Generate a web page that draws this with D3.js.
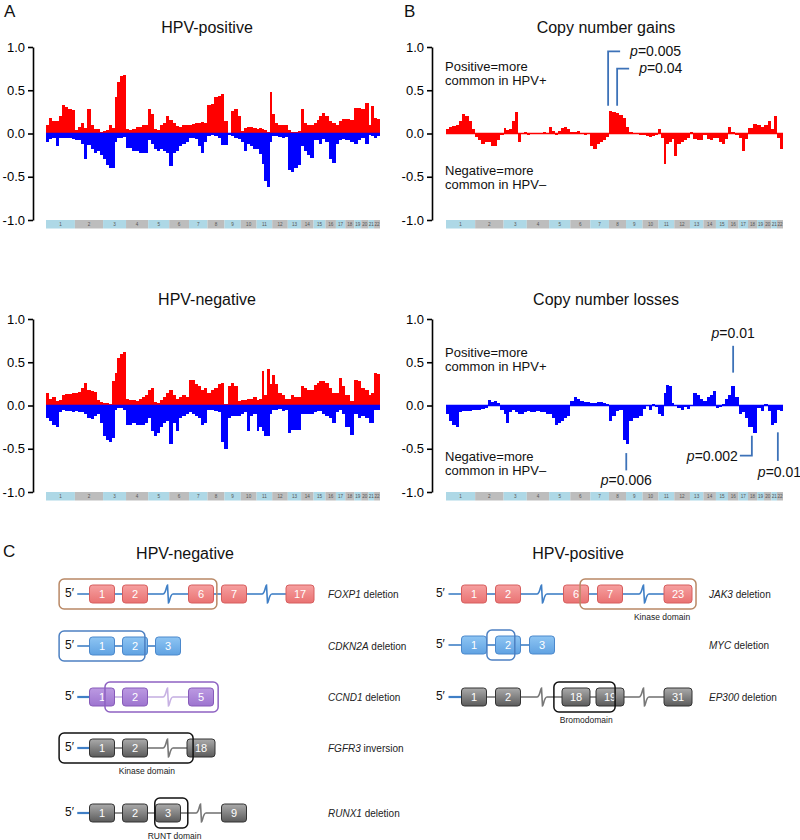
<!DOCTYPE html>
<html><head><meta charset="utf-8">
<script src="https://cdn.jsdelivr.net/npm/d3@7"></script>
<style>
body{margin:0;background:#fff}
svg{display:block}
text{font-family:"Liberation Sans",Arial,Helvetica,sans-serif}
</style>
</head><body>
<svg id="fig" width="800" height="840"></svg>
<script>
// ---------------- DATA ----------------
const chromNames = ["1","2","3","4","5","6","7","8","9","10","11","12","13","14","15","16","17","18","19","20","21","22"];
const chromLengths = [249,243,198,191,181,171,159,146,141,136,135,134,115,107,103,90,81,78,59,63,48,51];
const yTicks = [1, 0.5, 0, -0.5, -1];

// HPV-positive: frequency of gains (red) and losses (blue), values per chromosome (equal bins)
const hpvPosGain = [
 [0.1,0.18,0.15,0.14,0.2,0.33,0.31,0.28,0.27],
 [0.04,0.08,0.12,0.06,0.28,0.1,0.05,0.05,0.02],
 [0.03,0.04,0.1,0.06,0.42,0.6,0.66,0.68],
 [0.05,0.04,0.05,0.07,0.08,0.1,0.1],
 [0.28,0.22,0.05,0.04,0.1,0.12,0.2],
 [0.16,0.12,0.09,0.08,0.1,0.1],
 [0.1,0.11,0.12,0.12,0.13,0.12],
 [0.33,0.34,0.42,0.43,0.46],
 [0.14,0.01,0.26,0.28,0.2],
 [0.03,0.06,0.07,0.07,0.06],
 [0.05,0.06,0.05,0.04,0.02,0.48],
 [0.22,0.12,0.1,0.1,0.1],
 [0.04,0.02,0.02,0.03],
 [0.28,0.12,0.1,0.1],
 [0.12,0.16,0.2,0.24],
 [0.2,0.15,0.12],
 [0.1,0.15,0.17],
 [0.17,0.16],
 [0.3,0.3],
 [0.28,0.35],
 [0.1,0.32],
 [0.18,0.17]
];
const hpvPosLoss = [
 [-0.1,-0.06,-0.05,-0.14,-0.05,-0.05,-0.05,-0.05,-0.06],
 [-0.07,-0.08,-0.12,-0.3,-0.13,-0.18,-0.22,-0.2,-0.25],
 [-0.3,-0.36,-0.4,-0.4,-0.1,-0.05,-0.05,-0.04],
 [-0.17,-0.17,-0.2,-0.2,-0.22,-0.22,-0.22],
 [-0.08,-0.12,-0.18,-0.2,-0.18,-0.2,-0.22],
 [-0.38,-0.22,-0.2,-0.15,-0.12,-0.1],
 [-0.05,-0.05,-0.06,-0.15,-0.22,-0.1],
 [-0.03,-0.02,-0.03,-0.05,-0.13],
 [-0.13,-0.02,-0.03,-0.05,-0.06],
 [-0.1,-0.2,-0.12,-0.15,-0.18],
 [-0.18,-0.24,-0.35,-0.55,-0.62,-0.1],
 [-0.03,-0.03,-0.04,-0.05,-0.04],
 [-0.42,-0.45,-0.4,-0.36],
 [-0.15,-0.2,-0.25,-0.28],
 [-0.08,-0.08,-0.12,-0.06],
 [-0.1,-0.3,-0.34],
 [-0.12,-0.08,-0.06],
 [-0.08,-0.1],
 [-0.12,-0.08],
 [-0.05,-0.12],
 [-0.02,-0.03],
 [-0.05,-0.03]
];
// HPV-negative
const hpvNegGain = [
 [0.15,0.08,0.1,0.05,0.06,0.12,0.13,0.13,0.14],
 [0.14,0.16,0.2,0.26,0.18,0.17,0.16,0.06,0.04],
 [0.03,0.03,0.02,0.28,0.38,0.55,0.6,0.62],
 [0.08,0.06,0.06,0.05,0.07,0.1,0.12],
 [0.18,0.2,0.04,0.03,0.06,0.1,0.15],
 [0.18,0.12,0.08,0.1,0.12,0.1],
 [0.3,0.3,0.25,0.22,0.18,0.2],
 [0.15,0.18,0.2,0.25,0.26],
 [0.02,0.22,0.26,0.22,0.05],
 [0.06,0.06,0.08,0.07,0.1],
 [0.06,0.08,0.4,0.12,0.42,0.25],
 [0.35,0.25,0.15,0.12,0.08],
 [0.08,0.12,0.1,0.1],
 [0.22,0.2,0.18,0.18],
 [0.24,0.26,0.28,0.28],
 [0.26,0.2,0.15],
 [0.15,0.32,0.22],
 [0.12,0.05],
 [0.3,0.28],
 [0.2,0.18],
 [0.12,0.14],
 [0.37,0.36]
];
const hpvNegLoss = [
 [-0.15,-0.18,-0.22,-0.25,-0.08,-0.05,-0.06,-0.06,-0.07],
 [-0.06,-0.07,-0.08,-0.1,-0.15,-0.16,-0.12,-0.1,-0.2],
 [-0.35,-0.4,-0.42,-0.38,-0.05,-0.03,-0.03,-0.05],
 [-0.22,-0.22,-0.2,-0.22,-0.23,-0.22,-0.2],
 [-0.15,-0.3,-0.35,-0.32,-0.25,-0.2,-0.18],
 [-0.45,-0.2,-0.3,-0.15,-0.12,-0.1],
 [-0.08,-0.1,-0.12,-0.15,-0.22,-0.2],
 [-0.05,-0.05,-0.06,-0.08,-0.42],
 [-0.5,-0.15,-0.12,-0.12,-0.12],
 [-0.1,-0.08,-0.3,-0.12,-0.1],
 [-0.3,-0.25,-0.3,-0.35,-0.35,-0.1],
 [-0.05,-0.05,-0.04,-0.06,-0.05],
 [-0.32,-0.28,-0.28,-0.28],
 [-0.1,-0.1,-0.1,-0.1],
 [-0.08,-0.06,-0.06,-0.1],
 [-0.12,-0.15,-0.2],
 [-0.08,-0.05,-0.1],
 [-0.25,-0.34],
 [-0.1,-0.15],
 [-0.12,-0.15],
 [-0.2,-0.2],
 [-0.05,-0.05]
];
// Differences (HPV+ minus HPV-)
const gainDiff = [
 [0.05,0.08,0.09,0.1,0.15,0.23,0.2,0.15,0.05],
 [-0.04,-0.08,-0.12,-0.1,-0.1,-0.15,-0.14,-0.08,-0.02],
 [0.06,0.04,0.05,0.15,0.25,-0.1,0.0,0.02],
 [-0.02,-0.01,0.0,0.01,0.01,0.02,0.0],
 [0.08,0.03,-0.02,0.03,0.06,0.07,0.05],
 [0.02,0.02,0.03,0.0,-0.02,-0.01],
 [-0.15,-0.18,-0.12,-0.1,-0.08,-0.04],
 [0.26,0.25,0.24,0.21,0.18],
 [0.08,0.02,0.0,-0.01,-0.02],
 [-0.02,-0.03,-0.04,-0.03,-0.02],
 [0.05,-0.05,-0.35,-0.12,-0.1,-0.06],
 [-0.26,-0.12,-0.1,-0.08,-0.05],
 [0.02,-0.06,-0.08,-0.08],
 [-0.02,-0.06,-0.08,-0.05],
 [-0.05,-0.1,-0.12,-0.06],
 [0.08,0.02,-0.02],
 [-0.05,-0.2,-0.06],
 [0.06,0.11],
 [0.1,0.08],
 [0.1,0.15],
 [0.05,0.2],
 [-0.05,-0.18]
];
const lossDiff = [
 [-0.1,-0.18,-0.22,-0.25,-0.07,-0.06,-0.06,-0.06,-0.05],
 [-0.05,-0.05,-0.04,-0.03,0.06,0.04,0.05,0.03,-0.05],
 [-0.1,-0.2,-0.08,-0.05,-0.08,-0.1,-0.1,-0.08],
 [-0.06,-0.08,-0.08,-0.06,-0.07,-0.08,-0.1],
 [-0.1,-0.15,-0.22,-0.2,-0.18,-0.15,-0.12],
 [0.05,0.1,0.08,0.05,0.04,0.04],
 [0.03,0.03,0.04,0.04,0.03,0.02],
 [-0.18,-0.12,-0.06,-0.05,-0.4],
 [-0.45,-0.18,-0.15,-0.14,-0.12],
 [-0.04,0.0,-0.05,0.02,-0.02],
 [-0.1,-0.12,0.15,0.24,0.22,0.03],
 [0.0,-0.03,-0.05,-0.02,-0.04],
 [0.0,0.15,0.12,0.08],
 [0.05,0.1,0.12,0.17],
 [-0.03,-0.02,0.02,0.08],
 [0.12,0.23,0.1],
 [-0.1,-0.08,-0.15],
 [-0.25,-0.32],
 [-0.03,-0.06],
 [0.02,-0.06],
 [-0.22,-0.2],
 [-0.05,-0.06]
];
// p-value annotations: genome position (Mb), line top/bottom in data units
const gainAnnots = [
 {p:"0.005", pos:1385, top:0.95, bottom:0.32},
 {p:"0.04",  pos:1462, top:0.75, bottom:0.32}
];
const lossAnnots = [
 {p:"0.01",  pos:2453, top:0.69, bottom:0.38, style:"above"},
 {p:"0.006", pos:1540, top:-0.55, bottom:-0.75, style:"below"},
 {p:"0.002", pos:2613, top:-0.35, bottom:-0.58, style:"left"},
 {p:"0.01",  pos:2835, top:-0.31, bottom:-0.64, style:"right"}
];
// Gene schematics ("~" = intron break). domain = span in exon-slot units
const negGenes = [
 {gene:"FOXP1", event:"deletion", palette:"red", parts:["1","2","~","6","7","~","17"], domain:[-1.3,3.48], domainColor:"brown"},
 {gene:"CDKN2A", event:"deletion", palette:"blue", parts:["1","2","3"], domain:[-1.3,1.3], domainColor:"blue"},
 {gene:"CCND1", event:"deletion", palette:"purple", parts:["1","2","~","5"], domain:[0.09,3.52], domainColor:"purple"},
 {gene:"FGFR3", event:"inversion", palette:"gray", parts:["1","2","~","18"], domain:[-1.3,2.76], domainColor:"black", label:"Kinase domain", labelAt:1.36},
 {gene:"RUNX1", event:"deletion", palette:"gray", parts:["1","2","3","~","9"], domain:[1.6,2.6], domainColor:"black", label:"RUNT domain", labelAt:2.2}
];
const posGenes = [
 {gene:"JAK3", event:"deletion", palette:"red", parts:["1","2","~","6","7","~","23"], domain:[3.12,6.53], domainColor:"brown", label:"Kinase domain", labelAt:5.53},
 {gene:"MYC", event:"deletion", palette:"blue", parts:["1","2","3"], domain:[0.38,1.2], domainColor:"blue"},
 {gene:"EP300", event:"deletion", palette:"gray", parts:["1","2","~","18","19","~","31"], domain:[2.35,4.15], domainColor:"black", label:"Bromodomain", labelAt:3.3}
];

// ---------------- STYLE ----------------
const FONT = '"Liberation Sans",Arial,Helvetica,sans-serif';
const RED = "#ff0000", BLUE = "#0000ff", ANN = "#3d72b8";
const bandColors = ["#aed8e6", "#bdbdbd"];
const palettes = {
  red:    {top:"#f6a0a0", bot:"#e97272", stroke:"#d65e5e", line:"#3f7fc6"},
  blue:   {top:"#8ec5f3", bot:"#60a2e2", stroke:"#4b88cc", line:"#3f7fc6"},
  purple: {top:"#bc9ae2", bot:"#9d74cf", stroke:"#875bb9", line:"#c7b2e3"},
  gray:   {top:"#ababab", bot:"#5b5b5b", stroke:"#333333", line:"#777777"}
};
const domainColors = {brown:"#b98865", blue:"#4d80c2", purple:"#8e62c2", black:"#111111"};

const svg = d3.select("#fig");
const defs = svg.append("defs");
Object.entries(palettes).forEach(([k, p]) => {
  const g = defs.append("linearGradient").attr("id", "grad-" + k).attr("x1",0).attr("y1",0).attr("x2",0).attr("y2",1);
  g.append("stop").attr("offset","0%").attr("stop-color", p.top);
  g.append("stop").attr("offset","100%").attr("stop-color", p.bot);
});

const total = d3.sum(chromLengths);
const chromStart = Array.from(d3.cumsum([0, ...chromLengths])).slice(0, -1);

function cnPanel(o) {
  const g = svg.append("g");
  const xs = d3.scaleLinear().domain([0, total]).range([o.x0, o.x1]);
  const ys = d3.scaleLinear().domain([-1, 1]).range([o.yBot, o.yTop]);
  o.series.forEach(s => {
    const bins = [];
    s.data.forEach((vals, c) => {
      const n = vals.length;
      vals.forEach((v, i) => {
        bins.push({a: chromStart[c] + chromLengths[c] * i / n, b: chromStart[c] + chromLengths[c] * (i + 1) / n, v});
      });
    });
    g.append("g").attr("shape-rendering","crispEdges").selectAll("rect").data(bins).join("rect")
      .attr("x", d => xs(d.a)).attr("width", d => xs(d.b) - xs(d.a))
      .attr("y", d => ys(Math.max(d.v, 0))).attr("height", d => Math.abs(ys(d.v) - ys(0)))
      .attr("fill", s.color);
  });
  g.append("line").attr("x1", xs(0)).attr("x2", xs(total)).attr("y1", ys(0)).attr("y2", ys(0))
    .attr("stroke", o.baseColor).attr("stroke-width", 1.5);
  // axis
  const ax = g.append("g").attr("transform", `translate(${o.axisX},0)`)
    .call(d3.axisLeft(ys).tickValues(yTicks).tickFormat(d => d.toFixed(1)).tickSize(5).tickSizeOuter(0).tickPadding(3));
  ax.select(".domain").attr("stroke","#000").attr("stroke-width",1.6);
  ax.selectAll(".tick line").attr("stroke","#000").attr("stroke-width",1.6);
  ax.selectAll(".tick text").attr("font-size", 13).attr("font-family", FONT).attr("fill","#000");
  // chromosome band
  const band = g.append("g");
  chromNames.forEach((name, c) => {
    const xa = xs(chromStart[c]), xb = xs(chromStart[c] + chromLengths[c]);
    band.append("rect").attr("x", xa).attr("y", o.yBot).attr("width", xb - xa).attr("height", 8.5)
      .attr("fill", bandColors[c % 2]);
    band.append("text").attr("x", (xa + xb) / 2).attr("y", o.yBot + 6.2).attr("text-anchor","middle")
      .attr("font-size", 4.6).attr("fill","#555").text(name);
  });
  // title
  g.append("text").attr("x", o.titleX).attr("y", o.titleY).attr("text-anchor","middle")
    .attr("font-size", 16).attr("fill","#111").text(o.title);
  return {g, xs, ys};
}

function pText(g, x, y, p, anchor) {
  const t = g.append("text").attr("x", x).attr("y", y).attr("text-anchor", anchor).attr("font-size", 14).attr("fill","#111");
  t.append("tspan").attr("font-style","italic").text("p");
  t.append("tspan").text("=" + p);
}
function twoLines(g, x, y, l1, l2) {
  g.append("text").attr("x", x).attr("y", y).attr("font-size", 13).attr("fill","#111").text(l1);
  g.append("text").attr("x", x).attr("y", y + 14.6).attr("font-size", 13).attr("fill","#111").text(l2);
}

// Panel labels
[["A",4,17],["B",404,17],["C",3,557]].forEach(([l,x,y]) =>
  svg.append("text").attr("x",x).attr("y",y).attr("font-size",17).attr("fill","#111").text(l));

// A panels
cnPanel({axisX:33, x0:46, x1:380, yTop:47, yBot:220, title:"HPV-positive", titleX:207, titleY:33,
  series:[{data:hpvPosGain, color:RED},{data:hpvPosLoss, color:BLUE}], baseColor:BLUE});
cnPanel({axisX:33, x0:46, x1:380, yTop:319, yBot:492, title:"HPV-negative", titleX:207, titleY:305,
  series:[{data:hpvNegGain, color:RED},{data:hpvNegLoss, color:BLUE}], baseColor:BLUE});

// B panels
const bTop = cnPanel({axisX:432, x0:446, x1:783, yTop:47, yBot:220, title:"Copy number gains", titleX:606, titleY:33,
  series:[{data:gainDiff, color:RED}], baseColor:RED});
twoLines(bTop.g, 445, 70.5, "Positive=more", "common in HPV+");
twoLines(bTop.g, 445, 174.5, "Negative=more", "common in HPV\u2013");
gainAnnots.forEach(a => {
  const x = bTop.xs(a.pos), yt = bTop.ys(a.top), yb = bTop.ys(a.bottom);
  bTop.g.append("path").attr("d", `M${x},${yb}V${yt}H${x + 12}`).attr("fill","none")
    .attr("stroke", ANN).attr("stroke-width", 1.8);
  pText(bTop.g, x + 22, yt + 4.5, a.p, "start");
});

const bBot = cnPanel({axisX:432, x0:446, x1:783, yTop:319, yBot:492, title:"Copy number losses", titleX:606, titleY:305,
  series:[{data:lossDiff, color:BLUE}], baseColor:BLUE});
twoLines(bBot.g, 445, 356.5, "Positive=more", "common in HPV+");
twoLines(bBot.g, 445, 460.5, "Negative=more", "common in HPV\u2013");
lossAnnots.forEach(a => {
  const x = bBot.xs(a.pos), yt = bBot.ys(a.top), yb = bBot.ys(a.bottom);
  if (a.style === "left") {
    bBot.g.append("path").attr("d", `M${x},${yt}V${yb}H${x - 12}`).attr("fill","none").attr("stroke", ANN).attr("stroke-width", 1.8);
    pText(bBot.g, x - 14, yb + 5, a.p, "end");
  } else {
    bBot.g.append("line").attr("x1",x).attr("x2",x).attr("y1",yt).attr("y2",yb).attr("stroke",ANN).attr("stroke-width",1.8);
    if (a.style === "above") pText(bBot.g, x, yt - 8, a.p, "middle");
    else if (a.style === "below") pText(bBot.g, x, yb + 15, a.p, "middle");
    else pText(bBot.g, x - 20, yb + 16, a.p, "start");
  }
});

// ---------------- PANEL C ----------------
svg.append("text").attr("x",185).attr("y",559).attr("text-anchor","middle").attr("font-size",16).attr("fill","#111").text("HPV-negative");
svg.append("text").attr("x",578).attr("y",559).attr("text-anchor","middle").attr("font-size",16).attr("fill","#111").text("HPV-positive");

function geneColumn(genes, slot, rowsY, labelX) {
  genes.forEach((gd, r) => {
    const cy = rowsY[r];
    const pal = palettes[gd.palette];
    const g = svg.append("g");
    const exW = t => t.length > 1 ? 28 : 25;
    const parts = gd.parts.map((t, i) => {
      const cx = slot(i);
      const brk = t === "~";
      return {t, cx, brk, l: brk ? cx - 5 : cx - exW(t) / 2, r: brk ? cx + 5 : cx + exW(t) / 2};
    });
    // 5' leader
    g.append("text").attr("x", slot(-1.12)).attr("y", cy + 3).attr("font-size", 12).attr("fill","#111").text("5\u2032");
    g.append("line").attr("x1", slot(-0.75)).attr("x2", parts[0].l).attr("y1", cy).attr("y2", cy)
      .attr("stroke", "#3f7fc6").attr("stroke-width", gd.palette === "red" || gd.palette === "blue" ? 1.6 : 2.2);
    // introns
    for (let i = 0; i < parts.length - 1; i++) {
      g.append("line").attr("x1", parts[i].r).attr("x2", parts[i + 1].l).attr("y1", cy).attr("y2", cy)
        .attr("stroke", pal.line).attr("stroke-width", 1.6);
    }
    // breaks
    parts.filter(p => p.brk).forEach(p => {
      const x = p.cx;
      g.append("path").attr("d", `M${x-5},${cy} C${x-2},${cy} ${x-1.5},${cy-9} ${x-0.5},${cy-9} L${x+0.5},${cy+9} C${x+1.5},${cy+9} ${x+2},${cy} ${x+5},${cy}`)
        .attr("fill","none").attr("stroke", pal.line).attr("stroke-width", 1.6);
    });
    // exons
    parts.filter(p => !p.brk).forEach(p => {
      g.append("rect").attr("x", p.l).attr("y", cy - 9).attr("width", p.r - p.l).attr("height", 18).attr("rx", 3)
        .attr("fill", `url(#grad-${gd.palette})`).attr("stroke", pal.stroke).attr("stroke-width", 1);
      g.append("text").attr("x", p.cx).attr("y", cy + 4).attr("text-anchor","middle").attr("font-size", 11)
        .attr("fill","#fff").text(p.t);
    });
    // domain box
    const bx0 = slot(gd.domain[0]), bx1 = slot(gd.domain[1]);
    g.append("rect").attr("x", bx0).attr("y", cy - 15).attr("width", bx1 - bx0).attr("height", 30).attr("rx", 5)
      .attr("fill","none").attr("stroke", domainColors[gd.domainColor]).attr("stroke-width", 1.5);
    if (gd.label) {
      g.append("text").attr("x", slot(gd.labelAt)).attr("y", cy + 26).attr("text-anchor","middle")
        .attr("font-size", 8.5).attr("fill","#222").text(gd.label);
    }
    // gene label
    const t = g.append("text").attr("x", labelX).attr("y", cy + 4).attr("font-size", 10).attr("fill","#222");
    t.append("tspan").attr("font-style","italic").text(gd.gene);
    t.append("tspan").text(" " + gd.event);
  });
}
const slotNeg = d3.scaleLinear().domain([0, 1]).range([102, 135]);
const slotPos = d3.scaleLinear().domain([0, 1]).range([474, 508]);
geneColumn(negGenes, slotNeg, [594, 646, 697, 748, 813], 328);
geneColumn(posGenes, slotPos, [594, 645, 697], 709);
</script>
</body></html>
